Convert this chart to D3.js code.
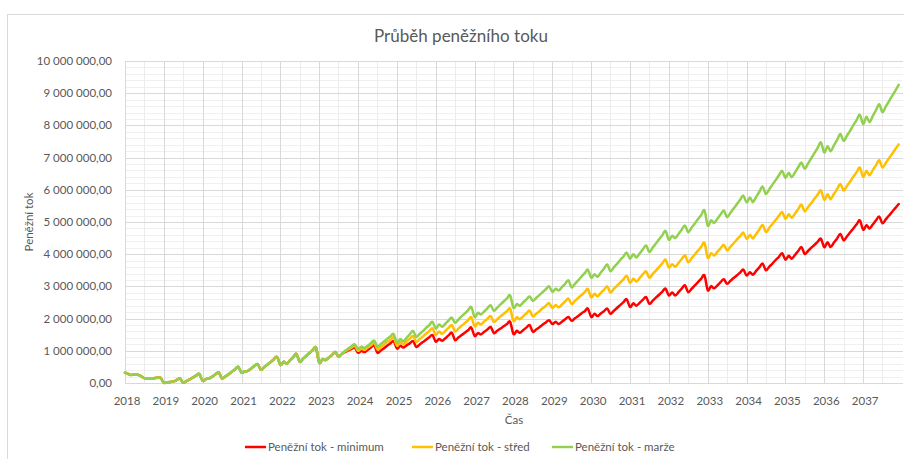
<!DOCTYPE html>
<html>
<head>
<meta charset="utf-8">
<script src="https://cdnjs.cloudflare.com/ajax/libs/d3/7.8.5/d3.min.js"></script>
<style>
    body { margin: 0; background: #fff; }
    text { font-family: Lato, "Open Sans", sans-serif; fill: #595959; }
</style>
</head>
<body>
<script>

    // values in millions, monthly from Jan 2018
    // Jan 2018 - Aug 2023: all three series are identical
    var sharedStart = [
        0.32, 0.28, 0.25, 0.27, 0.26, 0.21, 0.15, 0.15, 0.14, 0.15, 0.16, 0.16,
        0.01, 0.02, 0.03, 0.05, 0.09, 0.14, 0.01, 0.06, 0.11, 0.17, 0.23, 0.28,
        0.07, 0.12, 0.14, 0.20, 0.27, 0.33, 0.14, 0.20, 0.27, 0.35, 0.43, 0.50,
        0.32, 0.36, 0.38, 0.45, 0.53, 0.59, 0.41, 0.49, 0.57, 0.65, 0.74, 0.81,
        0.56, 0.66, 0.60, 0.70, 0.80, 0.90, 0.66, 0.75, 0.84, 0.93, 1.02, 1.10,
        0.63, 0.74, 0.71, 0.79, 0.87, 0.96, 0.82, 0.90
    ];

    // Sep 2023 - Dec 2037
    var minimumRest = [
        0.96, 1.01, 1.06, 1.10,
        0.94, 1.00, 0.96, 1.03, 1.10, 1.17, 0.94, 1.01, 1.08, 1.16, 1.23, 1.30,
        1.07, 1.16, 1.10, 1.17, 1.23, 1.30, 1.12, 1.19, 1.27, 1.34, 1.42, 1.49,
        1.28, 1.37, 1.31, 1.39, 1.48, 1.56, 1.33, 1.41, 1.49, 1.56, 1.64, 1.72,
        1.46, 1.55, 1.51, 1.59, 1.66, 1.74, 1.55, 1.62, 1.69, 1.76, 1.83, 1.90,
        1.52, 1.62, 1.56, 1.64, 1.72, 1.80, 1.59, 1.66, 1.73, 1.81, 1.88, 1.95,
        1.83, 1.90, 1.83, 1.90, 1.98, 2.05, 1.93, 2.01, 2.08, 2.16, 2.23, 2.31,
        2.05, 2.15, 2.08, 2.16, 2.23, 2.31, 2.15, 2.24, 2.33, 2.42, 2.51, 2.60,
        2.36, 2.48, 2.40, 2.49, 2.58, 2.67, 2.46, 2.55, 2.65, 2.74, 2.84, 2.93,
        2.72, 2.81, 2.72, 2.82, 2.93, 3.03, 2.82, 2.92, 3.03, 3.13, 3.24, 3.34,
        2.88, 3.01, 2.94, 3.03, 3.13, 3.22, 3.08, 3.17, 3.26, 3.34, 3.43, 3.52,
        3.34, 3.44, 3.36, 3.48, 3.59, 3.71, 3.50, 3.61, 3.71, 3.82, 3.92, 4.03,
        3.83, 3.95, 3.86, 3.98, 4.10, 4.22, 4.01, 4.10, 4.20, 4.29, 4.39, 4.48,
        4.22, 4.37, 4.22, 4.36, 4.49, 4.63, 4.43, 4.55, 4.68, 4.80, 4.93, 5.05,
        4.76, 4.90, 4.80, 4.92, 5.05, 5.17, 4.96, 5.08, 5.20, 5.32, 5.44, 5.56
    ];

    var stredRest = [
        0.98, 1.04, 1.10, 1.15,
        1.00, 1.07, 1.03, 1.10, 1.17, 1.25, 1.04, 1.11, 1.19, 1.27, 1.34, 1.41,
        1.16, 1.27, 1.20, 1.29, 1.37, 1.46, 1.28, 1.36, 1.44, 1.53, 1.61, 1.70,
        1.49, 1.60, 1.53, 1.62, 1.71, 1.80, 1.60, 1.69, 1.78, 1.86, 1.95, 2.04,
        1.76, 1.87, 1.82, 1.91, 1.99, 2.08, 1.90, 1.98, 2.07, 2.15, 2.23, 2.31,
        1.93, 2.04, 1.98, 2.07, 2.16, 2.25, 2.07, 2.15, 2.23, 2.32, 2.40, 2.48,
        2.33, 2.42, 2.35, 2.44, 2.53, 2.62, 2.45, 2.55, 2.64, 2.73, 2.82, 2.92,
        2.66, 2.77, 2.69, 2.80, 2.89, 3.00, 2.81, 2.92, 3.02, 3.12, 3.22, 3.33,
        3.11, 3.24, 3.15, 3.26, 3.37, 3.47, 3.27, 3.38, 3.49, 3.60, 3.72, 3.83,
        3.59, 3.69, 3.61, 3.73, 3.85, 3.96, 3.75, 3.87, 3.99, 4.11, 4.23, 4.35,
        3.89, 4.03, 3.96, 4.07, 4.18, 4.29, 4.12, 4.23, 4.34, 4.45, 4.56, 4.67,
        4.48, 4.60, 4.49, 4.63, 4.77, 4.91, 4.69, 4.81, 4.94, 5.06, 5.19, 5.31,
        5.10, 5.24, 5.13, 5.26, 5.40, 5.54, 5.33, 5.46, 5.59, 5.72, 5.85, 5.98,
        5.69, 5.86, 5.71, 5.87, 6.02, 6.18, 5.98, 6.12, 6.26, 6.41, 6.55, 6.69,
        6.40, 6.59, 6.45, 6.61, 6.76, 6.92, 6.69, 6.83, 6.98, 7.12, 7.27, 7.41
    ];

    var marzeRest = [
        1.00, 1.07, 1.14, 1.20,
        1.06, 1.13, 1.09, 1.16, 1.24, 1.32, 1.13, 1.21, 1.29, 1.37, 1.45, 1.52,
        1.25, 1.37, 1.29, 1.40, 1.51, 1.62, 1.43, 1.52, 1.61, 1.71, 1.80, 1.90,
        1.69, 1.82, 1.75, 1.84, 1.94, 2.03, 1.87, 1.97, 2.07, 2.16, 2.26, 2.36,
        2.05, 2.18, 2.13, 2.22, 2.32, 2.41, 2.24, 2.34, 2.44, 2.53, 2.63, 2.72,
        2.34, 2.45, 2.40, 2.50, 2.59, 2.69, 2.55, 2.64, 2.73, 2.82, 2.91, 3.00,
        2.83, 2.93, 2.87, 2.98, 3.08, 3.19, 2.97, 3.08, 3.19, 3.30, 3.41, 3.52,
        3.27, 3.38, 3.30, 3.43, 3.55, 3.68, 3.47, 3.59, 3.70, 3.82, 3.93, 4.05,
        3.86, 4.00, 3.90, 4.02, 4.15, 4.27, 4.07, 4.20, 4.33, 4.46, 4.59, 4.72,
        4.45, 4.57, 4.50, 4.63, 4.76, 4.89, 4.68, 4.82, 4.95, 5.09, 5.22, 5.36,
        4.89, 5.05, 4.97, 5.10, 5.23, 5.36, 5.15, 5.28, 5.42, 5.55, 5.69, 5.82,
        5.61, 5.76, 5.62, 5.78, 5.94, 6.10, 5.87, 6.01, 6.16, 6.30, 6.45, 6.59,
        6.37, 6.53, 6.39, 6.54, 6.70, 6.85, 6.65, 6.81, 6.98, 7.14, 7.31, 7.47,
        7.16, 7.35, 7.20, 7.38, 7.55, 7.73, 7.52, 7.68, 7.84, 8.01, 8.17, 8.33,
        8.04, 8.27, 8.10, 8.29, 8.47, 8.66, 8.41, 8.58, 8.75, 8.92, 9.09, 9.26
    ];

    var yearLabels = [2018, 2019, 2020, 2021, 2022, 2023, 2024, 2025, 2026, 2027,
                      2028, 2029, 2030, 2031, 2032, 2033, 2034, 2035, 2036, 2037];
    var yTicks = [0, 1, 2, 3, 4, 5, 6, 7, 8, 9, 10];
    var seriesNames = ["Peněžní tok - minimum", "Peněžní tok - střed", "Peněžní tok - marže"];
    var seriesColors = ["#ff0000", "#ffc000", "#92d050"];

    var series = [
        sharedStart.concat(minimumRest),
        sharedStart.concat(stredRest),
        sharedStart.concat(marzeRest)
    ];
    var dates = series[0].map(function (d, i) { return new Date(2018, i, 1); });

    var W = 904, H = 459;
    var plotL = 125, plotR = 902, plotT = 61, plotB = 383;

    var svg = d3.select("body").append("svg")
        .attr("width", W)
        .attr("height", H);

    // chart border
    svg.append("rect")
        .attr("x", 7.5).attr("y", 14.5)
        .attr("width", W).attr("height", H)
        .attr("fill", "#fff")
        .attr("stroke", "#d9d9d9");

    var x = d3.scaleTime()
        .domain([new Date(2018, 0, 1), new Date(2038, 0, 1)])
        .range([plotL, plotR]);
    var y = d3.scaleLinear().domain([0, 10]).range([plotB, plotT]);

    var czech = d3.formatLocale({decimal: ",", thousands: " ", grouping: [3], currency: ["", ""]});
    var fmt = czech.format(",.2f");

    // minor horizontal grid every 200 000
    var grid = svg.append("g");
    grid.selectAll(".hminor")
        .data(d3.range(0, 10.01, 0.2).filter(function (v) { return Math.abs(v - Math.round(v)) > 0.01; }))
        .enter().append("line")
        .attr("x1", plotL).attr("x2", plotR + 1)
        .attr("y1", function (d) { return Math.round(y(d)) + 0.5; })
        .attr("y2", function (d) { return Math.round(y(d)) + 0.5; })
        .attr("stroke", "#f0f0f0");

    // minor vertical grid at half years
    grid.selectAll(".vminor")
        .data(yearLabels)
        .enter().append("line")
        .attr("x1", function (d) { return Math.round(x(new Date(d, 6, 1))) + 0.5; })
        .attr("x2", function (d) { return Math.round(x(new Date(d, 6, 1))) + 0.5; })
        .attr("y1", plotT).attr("y2", plotB)
        .attr("stroke", "#ececec");

    grid.selectAll(".hmajor")
        .data(yTicks)
        .enter().append("line")
        .attr("x1", plotL).attr("x2", plotR + 1)
        .attr("y1", function (d) { return Math.round(y(d)) + 0.5; })
        .attr("y2", function (d) { return Math.round(y(d)) + 0.5; })
        .attr("stroke", "#d9d9d9");

    grid.selectAll(".vmajor")
        .data(yearLabels)
        .enter().append("line")
        .attr("x1", function (d) { return Math.round(x(new Date(d, 0, 1))) + 0.5; })
        .attr("x2", function (d) { return Math.round(x(new Date(d, 0, 1))) + 0.5; })
        .attr("y1", plotT).attr("y2", plotB)
        .attr("stroke", "#d9d9d9");

    // y tick labels
    svg.append("g").selectAll("text")
        .data(yTicks)
        .enter().append("text")
        .attr("x", 112)
        .attr("y", function (d) { return y(d) + 4; })
        .attr("text-anchor", "end")
        .attr("font-size", "11.5px")
        .text(function (d) { return fmt(d * 1000000); });

    // x tick labels
    svg.append("g").selectAll("text")
        .data(yearLabels)
        .enter().append("text")
        .attr("x", function (d) { return x(new Date(d, 0, 1)) + 2; })
        .attr("y", 405)
        .attr("text-anchor", "middle")
        .attr("font-size", "11.5px")
        .text(function (d) { return d; });

    // lines (smoothed like the spreadsheet original)
    var line = d3.line()
        .x(function (d, i) { return x(dates[i]); })
        .y(function (d) { return y(d); })
        .curve(d3.curveCardinal.tension(0));

    svg.append("g").selectAll("path")
        .data(series)
        .enter().append("path")
        .attr("d", line)
        .attr("fill", "none")
        .attr("stroke", function (d, i) { return seriesColors[i]; })
        .attr("stroke-width", 2.5)
        .attr("stroke-linejoin", "round")
        .attr("stroke-linecap", "round");

    // title and axis titles
    svg.append("text")
        .attr("x", 461).attr("y", 42)
        .attr("text-anchor", "middle")
        .attr("font-size", "17px")
        .text("Průběh peněžního toku");

    svg.append("text")
        .attr("x", 514).attr("y", 424)
        .attr("text-anchor", "middle")
        .attr("font-size", "11.5px")
        .text("Čas");

    svg.append("text")
        .attr("transform", "translate(33,222) rotate(-90)")
        .attr("text-anchor", "middle")
        .attr("font-size", "11.5px")
        .text("Peněžní tok");

    // legend
    var legendX = [245, 412, 552];
    var legend = svg.append("g").selectAll("g")
        .data(seriesNames)
        .enter().append("g")
        .attr("transform", function (d, i) { return "translate(" + legendX[i] + ",447)"; });
    legend.append("line")
        .attr("x1", 0).attr("x2", 21)
        .attr("stroke", function (d, i) { return seriesColors[i]; })
        .attr("stroke-width", 2.5);
    legend.append("text")
        .attr("x", 23).attr("y", 4)
        .attr("font-size", "11.5px")
        .text(function (d) { return d; });

</script>
</body>
</html>
